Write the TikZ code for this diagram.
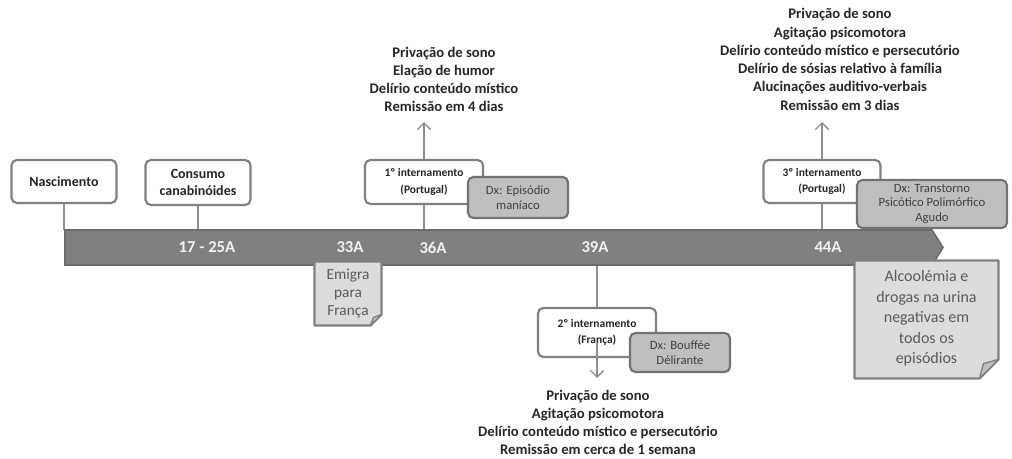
\documentclass[tikz,border=0pt]{standalone}
\usepackage{fontspec}
\setmainfont{Carlito}
\usetikzlibrary{arrows.meta,calc}

\definecolor{barGray}{HTML}{808080}
\definecolor{barEdge}{HTML}{6B6B6B}
\definecolor{boxEdge}{HTML}{808080}
\definecolor{dxFill}{HTML}{BFBFBF}
\definecolor{dxEdge}{HTML}{727272}
\definecolor{noteFill}{HTML}{DCDCDC}
\definecolor{connGray}{HTML}{8E8E8E}
\definecolor{txtDark}{HTML}{262626}
\definecolor{txtMid}{HTML}{404040}
\definecolor{txtNote}{HTML}{5A5A5A}

\tikzset{every picture/.style={line width=0.75pt}}
\tikzset{
  evbox/.style={draw=boxEdge, line width=1.6pt, fill=white, rounded corners=4pt, align=center, inner sep=0pt, text=txtDark},
  dxbox/.style={draw=dxEdge, line width=1.6pt, fill=dxFill, rounded corners=4pt, align=center, inner sep=0pt, text=txtMid,
    font=\fontsize{9.5}{10.8}\selectfont},
  intfont/.style={font=\fontsize{8.6}{12.5}\selectfont\bfseries},
  bigfont/.style={font=\fontsize{10.5}{13.3}\selectfont\bfseries},
  symlist/.style={align=center, inner sep=0pt, text=txtDark, font=\fontsize{11}{13.7}\selectfont\bfseries},
  barlabel/.style={inner sep=0pt, text=white!95!black, font=\fontsize{12.5}{14}\selectfont\bfseries},
  notetext/.style={align=center, inner sep=0pt, text=txtNote},
  notepath/.style={draw=boxEdge, line width=1.6pt, fill=noteFill, line join=round},
  conn/.style={draw=connGray, line width=1.2pt},
  upline/.style={draw=connGray, line width=1pt, -{Straight Barb[length=5pt,width=10pt]}}
}

\begin{document}
\begin{tikzpicture}[x=0.75pt,y=0.75pt,yscale=-1,xscale=1]
\useasboundingbox (0,0) rectangle (1012,459);

\coordinate (bartop) at (0,230);
\coordinate (barbot) at (0,265);

% Event boxes above the time line
\node[evbox, bigfont, minimum width=78.75pt, minimum height=32.25pt] (nasc) at (64,181.5) {Nascimento};
\node[evbox, bigfont, minimum width=78.75pt, minimum height=33.75pt] (cons) at (198,182.5) {Consumo\\canabinóides};
\node[evbox, intfont, minimum width=88.5pt, minimum height=33pt] (int1) at (424,182) {1º internamento\\(Portugal)};
\node[evbox, intfont, minimum width=87.75pt, minimum height=32.25pt] (int3) at (822,181.5) {3º internamento\\(Portugal)};
% Event box below the time line
\node[evbox, intfont, minimum width=88.5pt, minimum height=36.75pt] (int2) at (597,332.5) {2º internamento\\(França)};

%Straight Lines: ticks to the bar
\draw[conn] (nasc.south) -- (nasc.south |- bartop);
\draw[conn] (cons.south) -- (cons.south |- bartop);
\draw[conn] (int1.south) -- (int1.south |- bartop);
\draw[conn] (int3.south) -- (int3.south |- bartop);
\draw[conn] (int2.north) -- (int2.north |- barbot);

%Shape: time line arrow
\draw[draw=barEdge, fill=barGray, line width=1.2pt] (65,230) -- (932,230) -- (943,247.5) -- (932,265) -- (65,265) -- cycle;

% Ages on the bar
\foreach \xx/\lab in {207/17 - 25A, 350/33A, 433/36A, 595/39A, 828/44A}
  \node[barlabel] (age\xx) at (\xx,247.5) {\lab};

% Diagnosis boxes
\node[dxbox, minimum width=75pt, minimum height=30.75pt] (dx1) at (518,197.5) {Dx: Episódio\\maníaco};
\node[dxbox, minimum width=112.5pt, minimum height=36pt] (dx3) at (932,204) {Dx: Transtorno\\Psicótico Polimórfico\\Agudo};

%Straight Lines: symptom arrows
\coordinate (tip1) at (424,122);
\coordinate (tip3) at (822,122);
\coordinate (tip2) at (597,378);
\draw[upline] (int1.north) -- (tip1);
\draw[upline] (int3.north) -- (tip3);
\draw[upline] ($(int2.center)+(0,10.5)$) -- (tip2);

\node[dxbox, minimum width=75pt, minimum height=29.25pt] (dx2) at (680,352.5) {Dx: Bouffée\\Délirante};

% Symptom lists
\node[symlist] (sym1) at (444,79.5) {Privação de sono\\Elação de humor\\Delírio conteúdo místico\\Remissão em 4 dias};
\node[symlist] (sym3) at (840,59.5) {Privação de sono\\Agitação psicomotora\\Delírio conteúdo místico e persecutório\\Delírio de sósias relativo à família\\Alucinações auditivo-verbais\\Remissão em 3 dias};
\node[symlist] (sym2) at (598,422.5) {Privação de sono\\Agitação psicomotora\\Delírio conteúdo místico e persecutório\\Remissão em cerca de 1 semana};

%Shape: folded notes
\path (348,293.5) node[minimum width=49.5pt, minimum height=47.25pt, inner sep=0pt] (emig) {};
\draw[notepath] (emig.north west) -- (emig.north east) -- ($(emig.south east)+(0,-11)$) -- ($(emig.south east)+(-11,0)$) -- (emig.south west) -- cycle;
\draw[notepath, fill=dxFill, line width=1pt] ($(emig.south east)+(0,-11)$) -- ($(emig.south east)+(-8,-8)$) -- ($(emig.south east)+(-11,0)$) -- cycle;
\node[notetext, font=\fontsize{11.5}{13.7}\selectfont] (emigt) at (emig.center) {Emigra\\para\\França};

\path (926.5,319.5) node[minimum width=107.25pt, minimum height=87.75pt, inner sep=0pt] (alco) {};
\draw[notepath] (alco.north west) -- (alco.north east) -- ($(alco.south east)+(0,-19)$) -- ($(alco.south east)+(-19,0)$) -- (alco.south west) -- cycle;
\draw[notepath, fill=dxFill, line width=1pt] ($(alco.south east)+(0,-19)$) -- ($(alco.south east)+(-15,-15)$) -- ($(alco.south east)+(-19,0)$) -- cycle;
\node[notetext, font=\fontsize{12}{15.4}\selectfont] (alcot) at ($(alco.center)+(0,-1)$) {Alcoolémia e\\drogas na urina\\negativas em\\todos os\\episódios};

\end{tikzpicture}
\end{document}
